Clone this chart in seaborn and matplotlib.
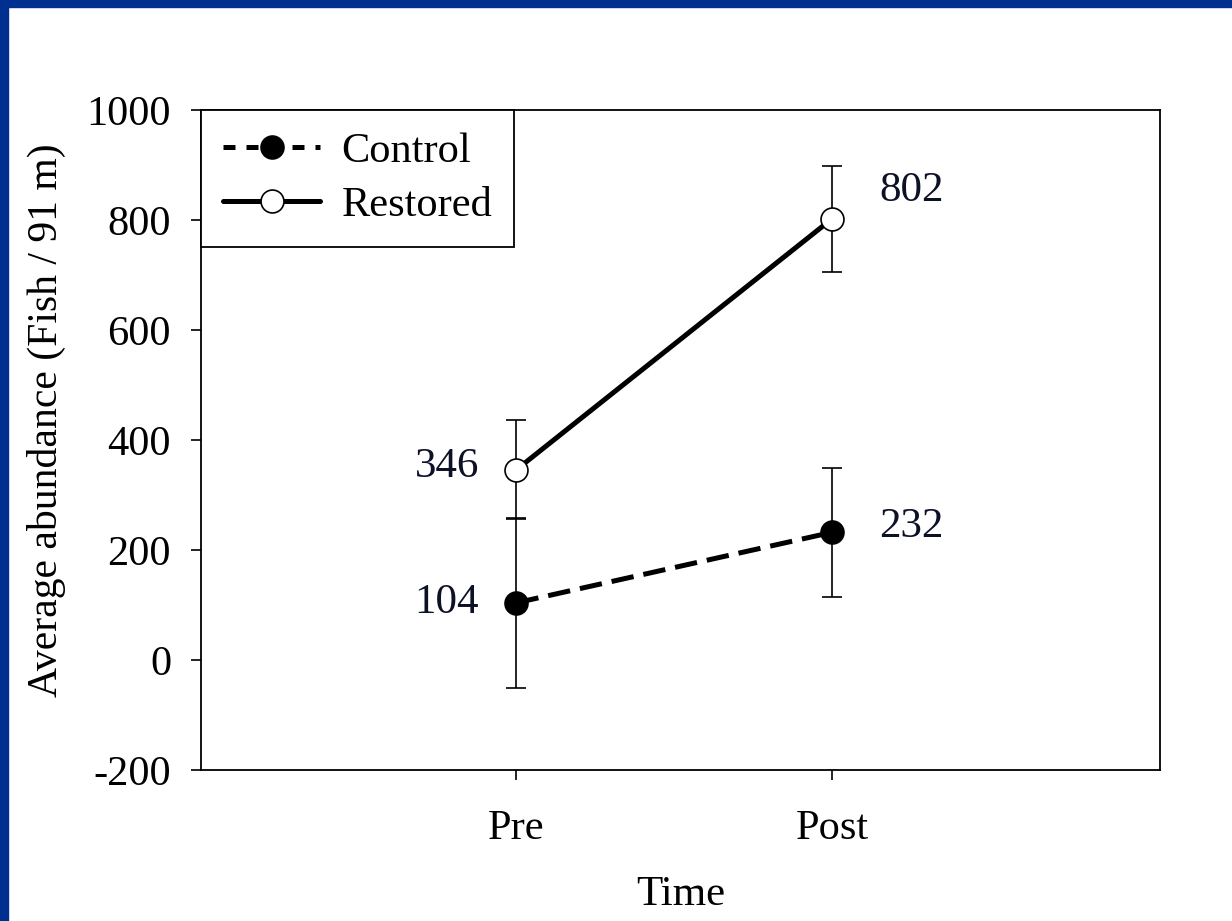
import matplotlib
matplotlib.use("Agg")
import matplotlib.pyplot as plt
from matplotlib.patches import Rectangle
import pandas as pd
import seaborn as sns

times = ["Pre", "Post"]
control_mean = [104, 232]
control_se = [155, 117]
restored_mean = [346, 802]
restored_se = [90, 96]

# label offsets in points (style only)
label_offsets = {"Control": [(-27, 0), (34, 4)], "Restored": [(-27, 2), (34, 20)]}

df = pd.DataFrame({
    "Time": times * 2,
    "Mean": control_mean + restored_mean,
    "SE": control_se + restored_se,
    "Group": ["Control"] * 2 + ["Restored"] * 2,
})

sns.set_style("ticks")
plt.rcParams["font.family"] = ["Liberation Serif", "DejaVu Serif"]
plt.rcParams["axes.linewidth"] = 1.3
plt.rcParams["axes.unicode_minus"] = False
plt.rcParams["text.color"] = "black"
plt.rcParams["axes.labelcolor"] = "black"

fig = plt.figure(figsize=(12.32, 9.21), dpi=100)
ax = fig.add_axes([0.1631, 0.164, 0.7785, 0.7166])

styles = {
    "Control": dict(linestyle=(0, (4.5, 2)), mfc="black"),
    "Restored": dict(linestyle="-", mfc="white"),
}

for grp in ["Control", "Restored"]:
    sub = df[df["Group"] == grp]
    sns.lineplot(data=sub, x="Time", y="Mean", sort=False, ax=ax,
                 color="black", lw=3.6, marker="o", ms=16.5, mec="black",
                 mew=1.2, label=grp, zorder=3, **styles[grp])
    ax.errorbar(sub["Time"], sub["Mean"], yerr=sub["SE"], fmt="none",
                ecolor="black", elinewidth=1.2, capsize=7.2, capthick=1.2,
                zorder=2)
    for i, (m, off) in enumerate(zip(sub["Mean"], label_offsets[grp])):
        ax.annotate(str(m), xy=(i, m), xytext=off, textcoords="offset points",
                    ha="right" if off[0] < 0 else "left", va="center",
                    fontsize=31, color="#0d1126")

ax.set_xlim(-1, 2.04)
ax.set_ylim(-200, 1000)
ax.set_yticks(range(-200, 1001, 200))
ax.tick_params(axis="both", direction="out", length=7.5, width=1.2,
               labelsize=30.5, colors="black")
ax.tick_params(axis="y", pad=14)
ax.tick_params(axis="x", pad=21)
for s in ax.spines.values():
    s.set_visible(True)
    s.set_color("black")

ax.set_xlabel("Time", fontsize=31, labelpad=20)
ax.set_ylabel("Average abundance (Fish / 91 m)", fontsize=30, labelpad=15)
ax.yaxis.label.set_y(0.53)

leg = ax.legend(loc="upper left", borderaxespad=0, frameon=True, fancybox=False,
                edgecolor="black", fontsize=30.5, handlelength=2.3,
                handletextpad=0.5, labelspacing=0.36, borderpad=0.52)
leg.get_frame().set_linewidth(1.3)
leg.get_frame().set_alpha(1)
for t in leg.get_texts():
    t.set_color("black")
leg.get_lines()[0].set_linestyle((0, (2.4, 2.2)))

# blue slide border on left and top
blue = "#00308F"
fig.patches.append(Rectangle((0, 0), 8 / 1232, 1, transform=fig.transFigure,
                             color=blue, zorder=10))
fig.patches.append(Rectangle((0, 1 - 7 / 921), 1, 7 / 921, transform=fig.transFigure,
                             color=blue, zorder=10))

fig.savefig("out.png", dpi=100)
